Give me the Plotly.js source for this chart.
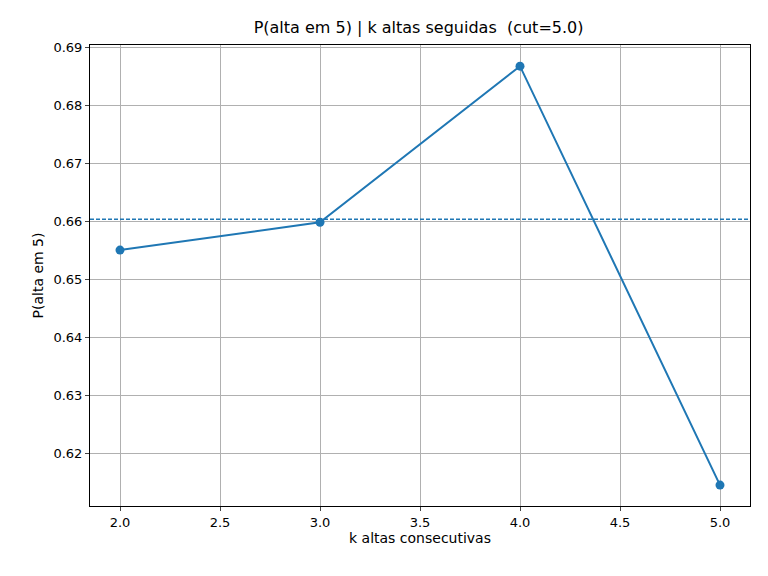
<!DOCTYPE html>
<html>
<head>
<script src="https://cdn.plot.ly/plotly-3.0.1.min.js"></script>
<style>body{margin:0}#chart{width:768px;height:576px}</style>
</head>
<body>
<div id="chart"></div>
<script>
const kValues = [2, 3, 4, 5];
const probs = [0.6550, 0.6598, 0.6867, 0.6145];
const baseline = 0.6603;

const trace = {
  x: kValues, y: probs, type: "scatter", mode: "lines+markers",
  line: { color: "#1f77b4", width: 2 },
  marker: { color: "#1f77b4", size: 9 },
};
const base = {
  x: [1.85, 5.15], y: [baseline, baseline], type: "scatter", mode: "lines",
  line: { color: "#1f77b4", width: 1.5, dash: "4px,2px" },
};

const layout = {
  width: 768, height: 576,
  margin: { l: 90, r: 18, t: 45, b: 70 },
  showlegend: false,
  paper_bgcolor: "white", plot_bgcolor: "white",
  font: { family: "DejaVu Sans", size: 13, color: "black" },
  title: { text: "P(alta em 5) | k altas seguidas  (cut=5.0)", x: 0.545, y: 0.962, font: { size: 16 } },
  xaxis: {
    range: [1.85, 5.15], tickvals: [2, 2.5, 3, 3.5, 4, 4.5, 5],
    ticktext: ["2.0", "2.5", "3.0", "3.5", "4.0", "4.5", "5.0"],
    showgrid: true, gridcolor: "#b0b0b0", zeroline: false,
    showline: true, mirror: true, linecolor: "black",
    ticks: "outside", ticklen: 4,
    title: { text: "k altas consecutivas", standoff: 4, font: { size: 14 } },
  },
  yaxis: {
    range: [0.6109, 0.69035], dtick: 0.01, tickformat: ".2f",
    showgrid: true, gridcolor: "#b0b0b0", zeroline: false,
    showline: true, mirror: true, linecolor: "black",
    ticks: "outside", ticklen: 4,
    title: { text: "P(alta em 5)", standoff: 6, font: { size: 14 } },
  },
};
Plotly.newPlot("chart", [base, trace], layout, { displayModeBar: false });
</script>
</body>
</html>
